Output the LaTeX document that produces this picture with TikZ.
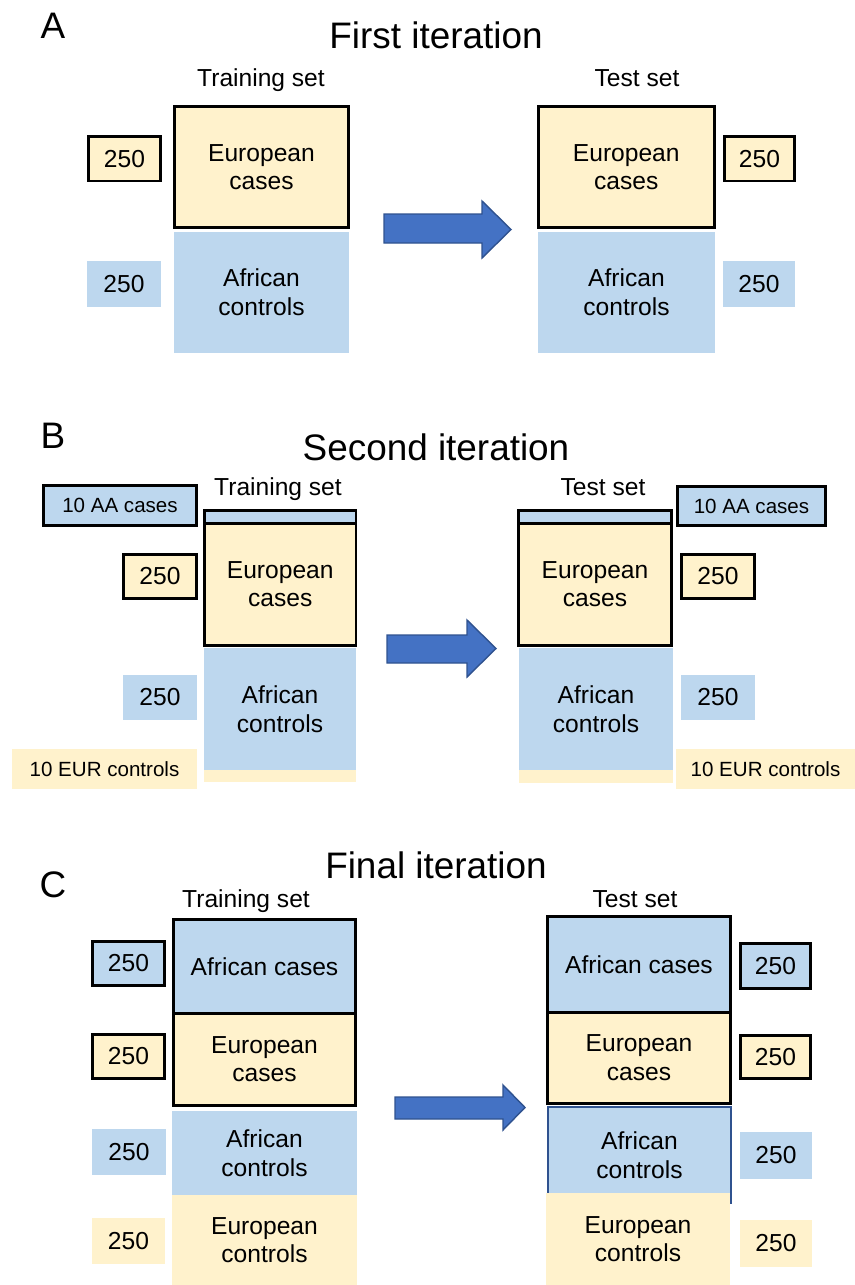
\documentclass[tikz,border=0pt]{standalone}
\usepackage{fontspec}
\setmainfont{Liberation Sans}
\definecolor{eurfill}{HTML}{FFF2CC}
\definecolor{afrfill}{HTML}{BDD7EE}
\definecolor{arrowfill}{HTML}{4472C4}
\definecolor{arrowline}{HTML}{2F528F}
\tikzset{
	eurcell/.style={fill=eurfill, inner sep=0pt, outer sep=0pt, align=center, font=\fontsize{14}{16.3}\selectfont},
	afrcell/.style={fill=afrfill, inner sep=0pt, outer sep=0pt, align=center, font=\fontsize{14}{16.3}\selectfont},
	framed/.style={draw=black, line width=1.7pt},
	smalltext/.style={font=\fontsize{11.7}{14}\selectfont},
	paneltitle/.style={anchor=base, inner sep=0pt, font=\fontsize{21}{25}\selectfont},
	setname/.style={anchor=base, inner sep=0pt, font=\fontsize{14}{16}\selectfont},
	blockarrow/.style={fill=arrowfill, draw=arrowline, line width=0.8pt, line join=miter}
}
% box from corner (x1,y1) to corner (x2,y2), in pixels of the 855x1285 page
\def\cell[#1](#2,#3)(#4,#5)#6#7{\node[#1, minimum width={(#4-#2)*0.02cm}, minimum height={(#5-#3)*0.02cm}] (#6) at ({(#2+#4)/2},{(#3+#5)/2}) {#7};}
% block arrow: (body left, body top, body bottom, head x, head top, head bottom, tip x)
\def\bigarrow(#1,#2,#3,#4,#5,#6,#7){\draw[blockarrow] (#1,#2) -- (#4,#2) -- (#4,#5) -- (#7,{(#5+#6)/2}) -- (#4,#6) -- (#4,#3) -- (#1,#3) -- cycle;}

\begin{document}
\begin{tikzpicture}[x=0.02cm, y=-0.02cm]
		\useasboundingbox (0,0) rectangle (855,1285);
		%%%%% A %%%%%
		\node[paneltitle] (lblA) at (53,38) {A};
		\node[paneltitle] (ttlA) at (436,48) {First iteration};
		\node[setname] (trNameA) at (261,86) {Training set};
		\node[setname] (teNameA) at (637,86) {Test set};
		
		\cell[eurcell, framed](174.5,106.5)(348.5,227.5){trEurA}{European\\cases}
		\cell[afrcell](174,232)(349,353){trAfrA}{African\\controls}
		\cell[eurcell, framed](88.5,136.5)(160.5,181){trEurNumA}{250}
		\cell[afrcell](87,261)(161,307){trAfrNumA}{250}
		
		\bigarrow(384,214,243,482,201,258,511)
		
		\cell[eurcell, framed](538.5,106.5)(714,227.5){teEurA}{European\\cases}
		\cell[afrcell](538,232)(715,353){teAfrA}{African\\controls}
		\cell[eurcell, framed](724.5,136.5)(794.5,181){teEurNumA}{250}
		\cell[afrcell](723,261)(795,307){teAfrNumA}{250}
		
		%%%%% B %%%%%
		\node[paneltitle] (lblB) at (53,448) {B};
		\node[paneltitle] (ttlB) at (436,460) {Second iteration};
		\node[setname] (trNameB) at (278,495) {Training set};
		\node[setname] (teNameB) at (603,495) {Test set};
		
		\cell[afrcell, framed, smalltext](43.5,485.5)(196.5,525.5){trAaB}{10 AA cases}
		\cell[afrcell, framed](204.5,510)(356,523){trStripB}{}
		\cell[eurcell, framed](204.5,523)(356,645.5){trEurB}{European\\cases}
		\cell[eurcell, framed](123.5,554.5)(196.5,598.5){trEurNumB}{250}
		\cell[afrcell](204,648)(356,770){trAfrB}{African\\controls}
		\cell[eurcell](204,770)(356,782){trStripEurB}{}
		\cell[afrcell](123,675)(197,720){trAfrNumB}{250}
		\cell[eurcell, smalltext](12,749)(197,789){trEurCtrlB}{10 EUR controls}
		
		\bigarrow(387,635,663,467,620,677,496)
		
		\cell[afrcell, framed](518.5,510)(671.5,523){teStripB}{}
		\cell[eurcell, framed](518.5,523)(671.5,645.5){teEurB}{European\\cases}
		\cell[afrcell, framed, smalltext](677.5,486.5)(825.5,525.5){teAaB}{10 AA cases}
		\cell[eurcell, framed](681.5,554.5)(754.5,598.5){teEurNumB}{250}
		\cell[afrcell](519,648)(673,770){teAfrB}{African\\controls}
		\cell[eurcell](519,770)(673,783){teStripEurB}{}
		\cell[afrcell](681,675)(755,720){teAfrNumB}{250}
		\cell[eurcell, smalltext](676,749)(855,789){teEurCtrlB}{10 EUR controls}
		
		%%%%% C %%%%%
		\node[paneltitle] (lblC) at (53,897) {C};
		\node[paneltitle] (ttlC) at (436,878) {Final iteration};
		\node[setname] (trNameC) at (246,907) {Training set};
		\node[setname] (teNameC) at (635,907) {Test set};
		
		\cell[afrcell, framed](173.5,919.5)(355.5,1013){trAfrCaseC}{African cases}
		\cell[eurcell, framed](173.5,1013)(355.5,1105.5){trEurC}{European\\cases}
		\cell[afrcell, framed](92.5,941.5)(164.5,985.5){trAfrNumC}{250}
		\cell[eurcell, framed](92.5,1034.5)(164.5,1078.5){trEurNumC}{250}
		\cell[afrcell](172,1111)(357,1195){trAfrCtrlC}{African\\controls}
		\cell[eurcell](172,1195)(357,1285){trEurCtrlC}{European\\controls}
		\cell[afrcell](92,1129)(166,1175){trAfrCtrlNumC}{250}
		\cell[eurcell](92,1218)(165,1264){trEurCtrlNumC}{250}
		
		\bigarrow(395,1097,1119,503,1085,1130,525)
		
		\cell[afrcell, framed](547.5,916.5)(730.5,1012){teAfrCaseC}{African cases}
		\cell[eurcell, framed](547.5,1012)(730.5,1103.5){teEurC}{European\\cases}
		\cell[afrcell, framed](740.5,943.5)(810.5,988.5){teAfrNumC}{250}
		\cell[eurcell, framed](740.5,1035.5)(810.5,1078.5){teEurNumC}{250}
		\cell[afrcell, draw=arrowline, line width=0.6pt](548,1107)(731,1203){teAfrCtrlC}{African\\controls}
		\cell[eurcell](546,1193)(730,1285){teEurCtrlC}{European\\controls}
		\cell[afrcell](740,1132)(812,1179){teAfrCtrlNumC}{250}
		\cell[eurcell](740,1220)(812,1267){teEurCtrlNumC}{250}
	\end{tikzpicture}
\end{document}
